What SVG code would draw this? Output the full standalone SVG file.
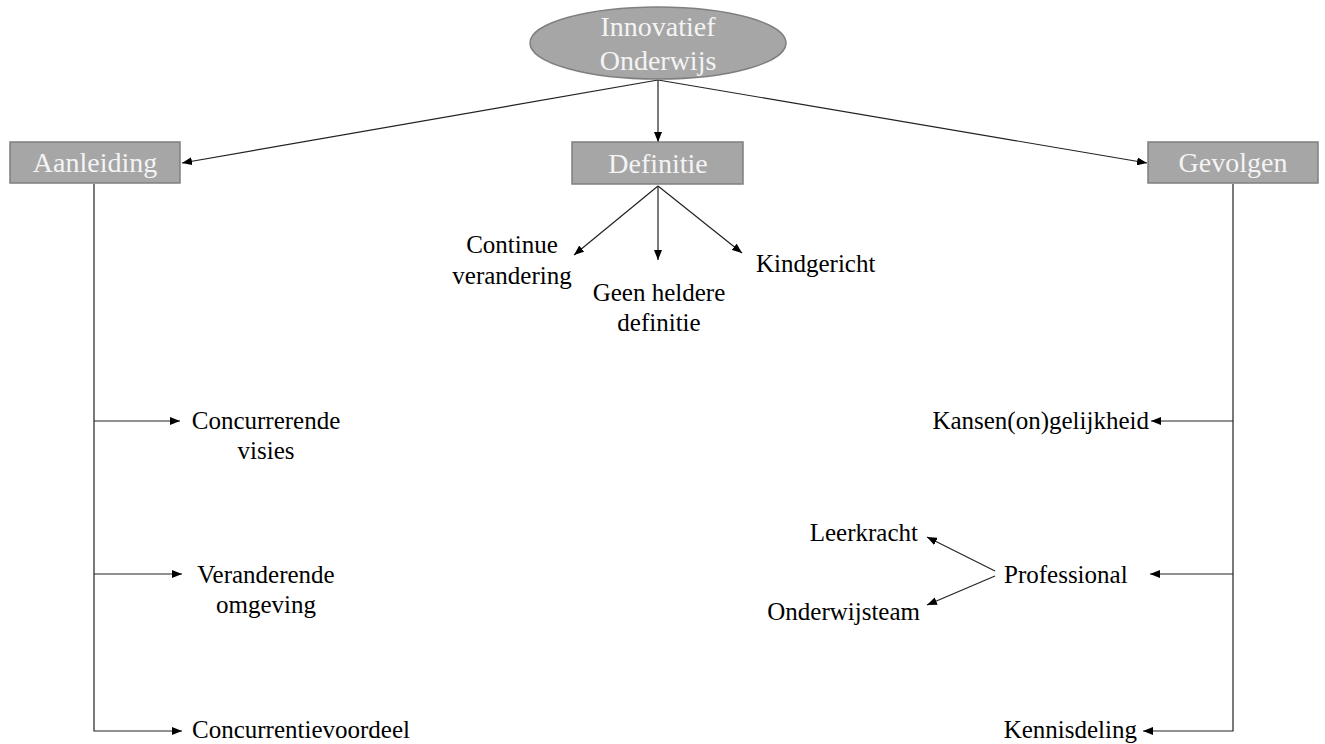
<svg xmlns="http://www.w3.org/2000/svg" width="1325" height="744" viewBox="0 0 1325 744">
<style>
.bg{fill:#ffffff}
.box{fill:#a6a6a6;stroke:#7f7f7f;stroke-width:1.5}
.head{font-family:"Liberation Serif","Times New Roman",serif;font-size:28px;fill:#f4f4f4;text-anchor:middle}
.lbl{font-family:"Liberation Serif","Times New Roman",serif;font-size:25px;fill:#000000}
.c{stroke:#222222;stroke-width:1.2;fill:none}
.a{marker-end:url(#ah)}
</style>
<defs>
<marker id="ah" markerUnits="userSpaceOnUse" markerWidth="10" markerHeight="8" refX="10" refY="4" orient="auto">
<path d="M0,0 L10,4 L0,8 z" fill="#000000"/>
</marker>
</defs>
<rect class="bg" x="0" y="0" width="1325" height="744"/>
<g id="connectors">
<path class="c a" d="M658,80 L182,163"/>
<path class="c a" d="M658,80 L658,142"/>
<path class="c a" d="M658,80 L1147,163"/>
<path class="c a" d="M658,186 L574,255"/>
<path class="c a" d="M658,186 L658,260"/>
<path class="c a" d="M658,186 L742,253"/>
<path class="c a" d="M94,184 L94,731 L182,731"/>
<path class="c a" d="M94,421 L180,421"/>
<path class="c a" d="M94,574 L182,574"/>
<path class="c a" d="M1233,184 L1233,731 L1143,731"/>
<path class="c a" d="M1233,421 L1151,421"/>
<path class="c a" d="M1233,574 L1150,574"/>
<path class="c a" d="M995,571 L927,537"/>
<path class="c a" d="M995,576 L927,605"/>
</g>
<g id="innovatief">
<ellipse class="box" cx="658" cy="43" rx="128" ry="36"/>
<text class="head" x="658" y="36">Innovatief</text>
<text class="head" x="658" y="70">Onderwijs</text>
</g>
<g id="aanleiding">
<rect class="box" x="10" y="142" width="170" height="41"/>
<text class="head" x="95" y="172">Aanleiding</text>
</g>
<g id="definitie">
<rect class="box" x="572" y="142" width="171" height="42"/>
<text class="head" x="658" y="173">Definitie</text>
</g>
<g id="gevolgen">
<rect class="box" x="1148" y="142" width="170" height="41"/>
<text class="head" x="1233" y="172">Gevolgen</text>
</g>
<g id="continue">
<text class="lbl" x="512" y="253" text-anchor="middle">Continue</text>
<text class="lbl" x="512" y="284" text-anchor="middle">verandering</text>
</g>
<g id="geen">
<text class="lbl" x="659" y="301" text-anchor="middle">Geen heldere</text>
<text class="lbl" x="659" y="331" text-anchor="middle">definitie</text>
</g>
<g id="kindgericht">
<text class="lbl" x="756" y="272">Kindgericht</text>
</g>
<g id="concurrerende">
<text class="lbl" x="266" y="429" text-anchor="middle">Concurrerende</text>
<text class="lbl" x="266" y="459" text-anchor="middle">visies</text>
</g>
<g id="veranderende">
<text class="lbl" x="266" y="583" text-anchor="middle">Veranderende</text>
<text class="lbl" x="266" y="613" text-anchor="middle">omgeving</text>
</g>
<g id="concurrentievoordeel">
<text class="lbl" x="192" y="738">Concurrentievoordeel</text>
</g>
<g id="kansen">
<text class="lbl" x="1149" y="429" text-anchor="end">Kansen(on)gelijkheid</text>
</g>
<g id="leerkracht">
<text class="lbl" x="918" y="541" text-anchor="end">Leerkracht</text>
</g>
<g id="professional">
<text class="lbl" x="1004" y="583">Professional</text>
</g>
<g id="onderwijsteam">
<text class="lbl" x="920" y="620" text-anchor="end">Onderwijsteam</text>
</g>
<g id="kennisdeling">
<text class="lbl" x="1137" y="738" text-anchor="end">Kennisdeling</text>
</g>
</svg>
